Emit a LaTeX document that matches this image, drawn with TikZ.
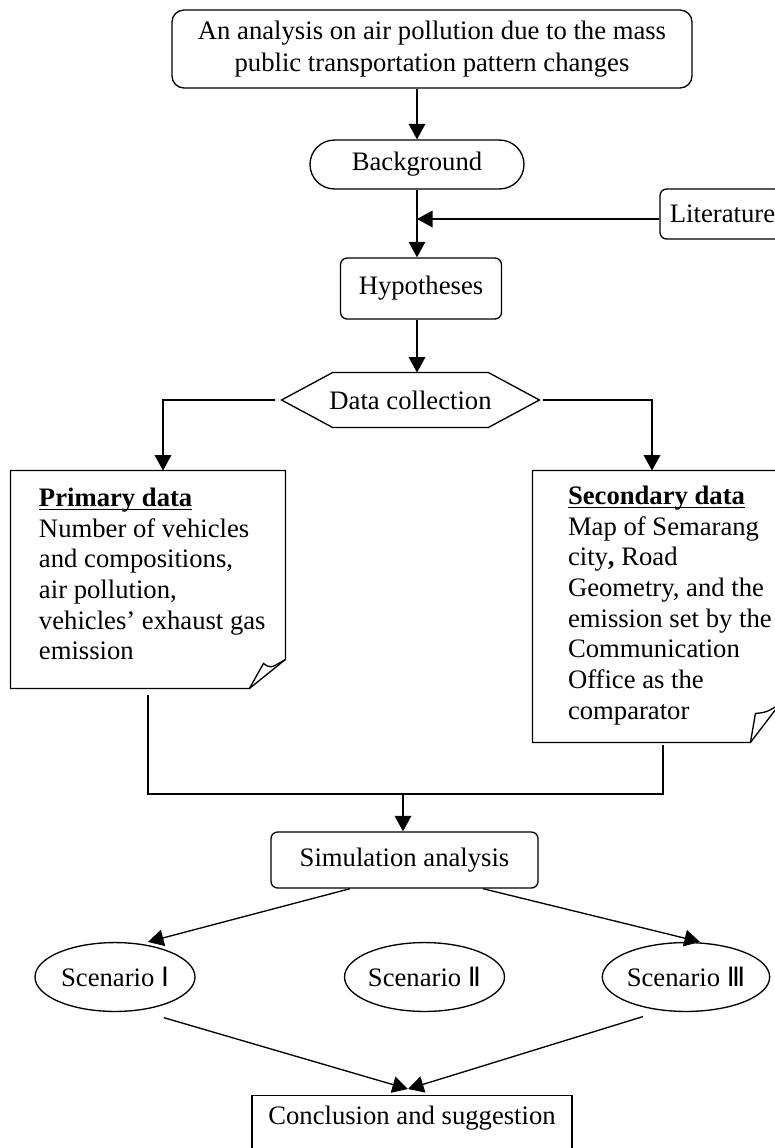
\documentclass[tikz,border=0pt]{standalone}
\usepackage{fontspec}
\setmainfont{Liberation Serif}
\newfontfamily\numfont{DejaVu Sans}
\usetikzlibrary{shapes.geometric,shapes.misc,arrows.meta}
\newcommand\headline[1]{\setbox0\hbox{\bfseries #1}\rlap{\rule[-1.7pt]{\wd0}{0.6pt}}\box0}
\tikzset{
  base/.style={draw, line width=0.6pt, inner sep=0pt, align=center},
  rbox/.style={base, rounded corners=3pt},
  pill/.style={base, rounded rectangle},
  scen/.style={base, ellipse, minimum width=72pt, minimum height=31pt},
  hidden/.style={inner sep=0pt},
  notetext/.style={inner sep=0pt, align=left, anchor=north west},
  line/.style={line width=0.6pt},
  arr/.style={line, -{Triangle[length=7pt,width=7.5pt]}}
}
\begin{document}
\begin{tikzpicture}[x=0.45pt,y=-0.45pt,font=\fontsize{12}{13.8}\selectfont]
  \useasboundingbox (0,0) rectangle (775,1148);
  \clip (0,0) rectangle (775,1148);

  \node[rbox, rounded corners=5.4pt, minimum width=234pt, minimum height=35.1pt,
    font=\fontsize{12}{14.4}\selectfont] (topic) at (432,49)
    {An analysis on air pollution due to the mass\\public transportation pattern changes};
  \node[pill, minimum width=96.3pt, minimum height=22pt] (bg) at (417,164.5) {Background};
  \node[rbox, minimum width=56.25pt, minimum height=22.5pt] (lit) at (722.5,214) {Literature};
  \node[rbox, minimum width=72.45pt, minimum height=27.45pt] (hyp) at (421,288.5) {Hypotheses};
  \node[hidden, minimum width=115.65pt, minimum height=24.3pt] (dc) at (410.5,400) {Data collection};
  \draw[line] (dc.west) -- ([xshift=22.95pt]dc.north west) -- ([xshift=-22.95pt]dc.north east)
    -- (dc.east) -- ([xshift=-22.95pt]dc.south east) -- ([xshift=22.95pt]dc.south west) -- cycle;

  \node[hidden, minimum width=123.3pt, minimum height=97.65pt] (prim) at (148,579.5) {};
  \draw[line] (prim.north west) -- (prim.north east) -- ([yshift=13.05pt]prim.south east)
    -- ([xshift=-16.2pt]prim.south east) -- (prim.south west) -- cycle;
  \draw[line] ([xshift=-16.2pt]prim.south east) -- ([xshift=-9.9pt,yshift=11.25pt]prim.south east)
    .. controls ([xshift=-6.75pt,yshift=9pt]prim.south east) .. ([yshift=13.05pt]prim.south east);
  \node[notetext] (primtxt) at ([xshift=12.6pt,yshift=-7.6pt]prim.north west)
    {\headline{Primary data}\\Number of vehicles\\and compositions,\\air pollution,\\vehicles’ exhaust gas\\emission};

  \node[hidden, minimum width=110.7pt, minimum height=121.95pt] (sec) at (656,606.5) {};
  \draw[line] (sec.north west) -- (sec.north east) -- ([yshift=17.1pt]sec.south east)
    -- ([xshift=-13.05pt]sec.south east) -- (sec.south west) -- cycle;
  \draw[line] ([xshift=-13.05pt]sec.south east) -- ([xshift=-10.8pt,yshift=13.05pt]sec.south east)
    .. controls ([xshift=-6pt,yshift=13.5pt]sec.south east) .. ([yshift=17.1pt]sec.south east);
  \node[notetext] (sectxt) at ([xshift=15.75pt,yshift=-6.8pt]sec.north west)
    {\headline{Secondary data}\\Map of Semarang\\city{\bfseries,} Road\\Geometry, and the\\emission set by the\\Communication\\Office as the\\comparator};

  \node[rbox, minimum width=120.15pt, minimum height=25.2pt] (sim) at (404.5,860) {Simulation analysis};
  \foreach \n/\x/\r in {1/115/Ⅰ, 2/424.5/Ⅱ, 3/686/Ⅲ}
    \node[scen] (scn\n) at (\x,977) {Scenario {\numfont\r}};
  \node[base, minimum width=144pt, inner ysep=3pt, text height=10pt, text depth=14pt,
    anchor=north] (concl) at (412,1095) {Conclusion and suggestion};

  \draw[arr] (bg.north |- topic.south) -- (bg.north);
  \draw[arr] (bg.south) -- (bg.south |- hyp.north);
  \coordinate (merge) at (417,219);
  \draw[arr] (lit.west |- merge) -- (merge);
  \draw[arr] (bg.south |- hyp.south) -- (bg.south |- dc.north);
  \draw[arr, shorten <=3.15pt] (dc.west) -| ([xshift=6.75pt]prim.north);
  \draw[arr, shorten <=1.8pt] (dc.east) -| ([xshift=-1.8pt]sec.north);

  \coordinate (join) at (403,794);
  \draw[line, shorten <=3.15pt] (prim.south) |- (join);
  \draw[line, shorten <=1.35pt] ([xshift=3.15pt]sec.south) |- (join);
  \draw[arr] (join) -- (join |- sim.north);
  \draw[arr] ([xshift=-24.5pt]sim.south) -- ([xshift=14.85pt]scn1.north);
  \draw[arr] ([xshift=35.3pt]sim.south) -- ([xshift=6.3pt]scn3.north);

  \coordinate (meet) at (408,1089);
  \draw[arr] ([xshift=22pt,yshift=-2.5pt]scn1.south) -- (meet);
  \draw[arr] ([xshift=-19.35pt,yshift=-2pt]scn3.south) -- (meet);
\end{tikzpicture}
\end{document}
